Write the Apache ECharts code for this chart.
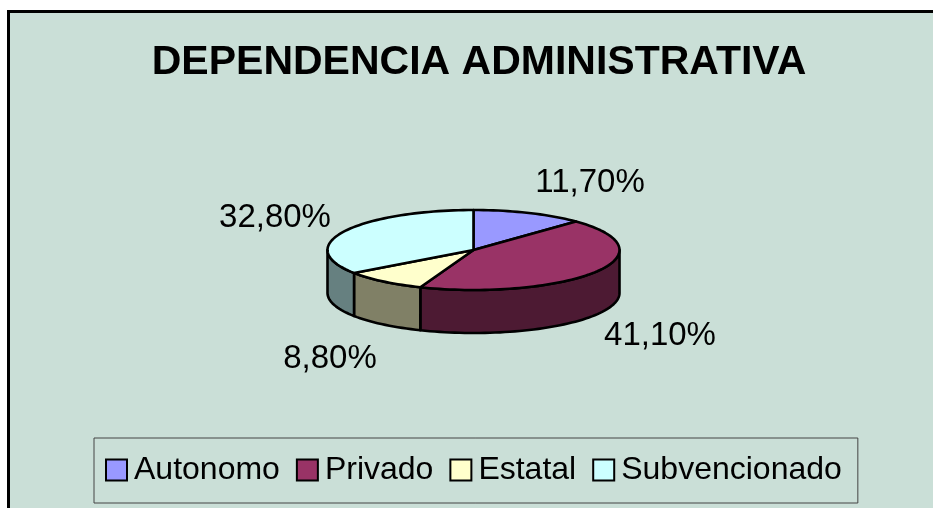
<!DOCTYPE html>
<html><head><meta charset="utf-8">
<style>html,body{margin:0;padding:0;background:#fff}#c{width:933px;height:508px}</style>
<script src="https://cdn.jsdelivr.net/npm/echarts@6/dist/echarts.min.js"></script>
</head><body><div id="c"></div>
<script>
const categories = ['Autonomo', 'Privado', 'Estatal', 'Subvencionado'];
const values = [11.7, 41.1, 8.8, 32.8];
const valueLabels = ['11,70%', '41,10%', '8,80%', '32,80%'];
const topColors = ['#9999FF', '#993366', '#FFFFCC', '#CCFFFF'];
const sideColors = ['#4D4D80', '#4D1A33', '#808066', '#668080'];

const PIE = { cx: 473.5, cy: 250, rx: 146, ry: 40, depth: 43 };
const LABEL_POS = [[590, 183], [660, 336], [330, 359], [275, 218]];
const total = values.reduce((a, b) => a + b, 0);
const starts = values.map((_, i) => values.slice(0, i).reduce((a, b) => a + b, 0) / total * 360);

function pt(deg, dy) {
  const r = deg * Math.PI / 180;
  return [PIE.cx + PIE.rx * Math.sin(r), PIE.cy - PIE.ry * Math.cos(r) + (dy || 0)];
}
function arc(a, b, dy) {
  const n = Math.max(2, Math.ceil(Math.abs(b - a) / 2));
  const out = [];
  for (let i = 0; i <= n; i++) out.push(pt(a + (b - a) * i / n, dy));
  return out;
}
const line = { stroke: '#000', lineWidth: 2.6, lineJoin: 'round' };

function makeRender(i) {
  return function (params, api) {
    const a = starts[i];
    const b = a + api.value(0) / total * 360;
    const children = [];
    const sa = Math.max(a, 90), sb = Math.min(b, 270);
    if (sb > sa) {
      children.push({
        type: 'polygon', z2: 1,
        shape: { points: arc(sa, sb, 0).concat(arc(sb, sa, PIE.depth)) },
        style: Object.assign({ fill: sideColors[i] }, line)
      });
    }
    children.push({
      type: 'polygon', z2: 2,
      shape: { points: [[PIE.cx, PIE.cy]].concat(arc(a, b, 0)) },
      style: Object.assign({ fill: topColors[i] }, line)
    });
    children.push({
      type: 'text', z2: 3,
      x: LABEL_POS[i][0], y: LABEL_POS[i][1],
      style: { text: valueLabels[i], fill: '#000', align: 'center', verticalAlign: 'middle',
        font: '33px "Liberation Sans", Arial, sans-serif' }
    });
    return { type: 'group', children };
  };
}

const chart = echarts.init(document.getElementById('c'), null, { renderer: 'canvas' });
chart.setOption({
  animation: false,
  backgroundColor: '#fff',
  graphic: [{
    type: 'rect', z: -10, silent: true,
    shape: { x: 8.5, y: 11.5, width: 950, height: 520 },
    style: { fill: '#CADFD7', stroke: '#000', lineWidth: 3 }
  }],
  title: {
    text: 'DEPENDENCIA ADMINISTRATIVA',
    left: 474, top: 37, textAlign: 'center',
    textStyle: { fontFamily: '"Liberation Sans", Arial, sans-serif', fontWeight: 'bold', fontSize: 41, color: '#000' }
  },
  legend: {
    left: 94, top: 438, orient: 'horizontal',
    padding: [16, 16, 17, 11],
    itemGap: 16, itemWidth: 21, itemHeight: 21,
    icon: 'rect', selectedMode: false,
    borderColor: '#444', borderWidth: 1,
    itemStyle: { borderColor: '#000', borderWidth: 2 },
    textStyle: { fontFamily: '"Liberation Sans", Arial, sans-serif', fontSize: 32, color: '#000', padding: [0, 0, 0, 2] },
    data: categories
  },
  tooltip: { show: false },
  series: categories.map((name, i) => ({
    type: 'custom', name, coordinateSystem: 'none',
    itemStyle: { color: topColors[i] },
    silent: true, clip: false,
    renderItem: makeRender(i),
    data: [[values[i]]]
  }))
});
</script></body></html>
